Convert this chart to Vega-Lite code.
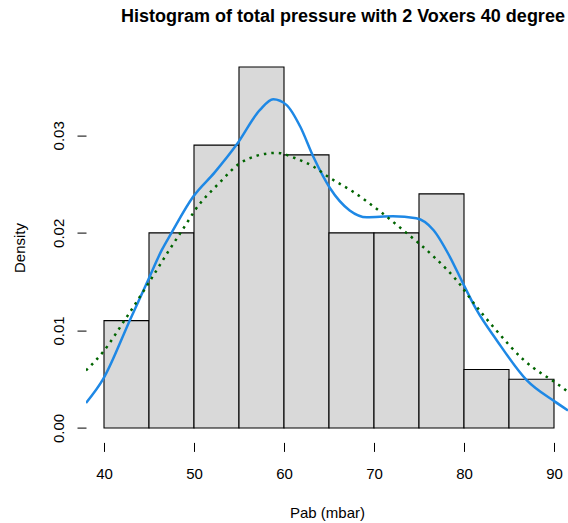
{
  "$schema": "https://vega.github.io/schema/vega-lite/v6.json",
  "width": 482,
  "height": 389.8,
  "autosize": "none",
  "padding": {"left": 86, "top": 52.6, "right": 0, "bottom": 80.6},
  "background": "white",
  "config": {
    "view": {"stroke": null},
    "font": "Liberation Sans"
  },
  "title": {
    "text": "Histogram of total pressure with 2 Voxers 40 degree",
    "font": "Liberation Sans",
    "fontSize": 18,
    "fontWeight": "bold",
    "color": "black",
    "anchor": "middle",
    "baseline": "alphabetic",
    "offset": 13,
    "dx": 16
  },
  "encoding": {
    "x": {
      "field": "x",
      "type": "quantitative",
      "title": "Pab (mbar)",
      "scale": {"domain": [38, 91.556], "nice": false, "zero": false},
      "axis": {
        "values": [40, 50, 60, 70, 80, 90],
        "domain": false,
        "grid": false,
        "tickColor": "black",
        "tickSize": 9,
        "labelFontSize": 15,
        "labelColor": "black",
        "labelFont": "Liberation Sans",
        "labelBaseline": "alphabetic",
        "labelPadding": 27,
        "labelFlush": false,
        "titleFont": "Liberation Sans",
        "titleFontSize": 15,
        "titleFontWeight": "normal",
        "titleColor": "black",
        "titleBaseline": "alphabetic",
        "titleY": 74.6
      }
    },
    "y": {
      "field": "density",
      "type": "quantitative",
      "title": "Density",
      "scale": {"domain": [-0.00148, 0.03848], "nice": false, "zero": false},
      "axis": {
        "values": [0, 0.01, 0.02, 0.03],
        "format": ".2f",
        "domain": false,
        "grid": false,
        "tickColor": "black",
        "tickSize": 9,
        "labelFontSize": 15,
        "labelColor": "black",
        "labelFont": "Liberation Sans",
        "labelAngle": -90,
        "labelAlign": "center",
        "labelBaseline": "alphabetic",
        "labelPadding": 13.7,
        "labelFlush": false,
        "titleFont": "Liberation Sans",
        "titleFontSize": 15,
        "titleFontWeight": "normal",
        "titleColor": "black",
        "titleAngle": -90,
        "titleBaseline": "alphabetic",
        "titleX": -62
      }
    }
  },
  "layer": [
    {
      "data": {
        "values": [
          {"x": 40, "x2": 45, "density": 0.011},
          {"x": 45, "x2": 50, "density": 0.020},
          {"x": 50, "x2": 55, "density": 0.029},
          {"x": 55, "x2": 60, "density": 0.037},
          {"x": 60, "x2": 65, "density": 0.028},
          {"x": 65, "x2": 70, "density": 0.020},
          {"x": 70, "x2": 75, "density": 0.020},
          {"x": 75, "x2": 80, "density": 0.024},
          {"x": 80, "x2": 85, "density": 0.006},
          {"x": 85, "x2": 90, "density": 0.005}
        ]
      },
      "mark": {"type": "rect", "fill": "#D9D9D9", "stroke": "black", "strokeWidth": 1.1},
      "encoding": {
        "x2": {"field": "x2"},
        "y2": {"datum": 0}
      }
    },
    {
      "data": {
        "values": [
          {"x": 38.0, "density": 0.00256},
          {"x": 39.9, "density": 0.0050},
          {"x": 42.9, "density": 0.0111},
          {"x": 44.92, "density": 0.0152},
          {"x": 46.4, "density": 0.0182},
          {"x": 47.5, "density": 0.0200},
          {"x": 49.9, "density": 0.0237},
          {"x": 52.3, "density": 0.0262},
          {"x": 54.7, "density": 0.0290},
          {"x": 57.33, "density": 0.0326},
          {"x": 58.8, "density": 0.0337},
          {"x": 60.3, "density": 0.0331},
          {"x": 61.8, "density": 0.0309},
          {"x": 63.26, "density": 0.0278},
          {"x": 65.1, "density": 0.0246},
          {"x": 67.3, "density": 0.0223},
          {"x": 69.2, "density": 0.0216},
          {"x": 72.1, "density": 0.0217},
          {"x": 74.7, "density": 0.0215},
          {"x": 76.6, "density": 0.0203},
          {"x": 78.4, "density": 0.0176},
          {"x": 79.9, "density": 0.0148},
          {"x": 81.4, "density": 0.0121},
          {"x": 83.63, "density": 0.0090},
          {"x": 86.96, "density": 0.0049},
          {"x": 90.1, "density": 0.0027},
          {"x": 91.556, "density": 0.0018}
        ]
      },
      "mark": {"type": "line", "color": "#1E88E5", "strokeWidth": 2.5, "interpolate": "monotone", "clip": true}
    },
    {
      "data": {
        "values": [
          {"x": 38.0, "density": 0.0059},
          {"x": 39.9, "density": 0.0078},
          {"x": 42.33, "density": 0.0111},
          {"x": 44.92, "density": 0.0148},
          {"x": 47.15, "density": 0.0181},
          {"x": 49.2, "density": 0.0210},
          {"x": 50.1, "density": 0.0223},
          {"x": 52.9, "density": 0.0252},
          {"x": 54.9, "density": 0.0270},
          {"x": 56.96, "density": 0.0279},
          {"x": 59.2, "density": 0.0282},
          {"x": 61.4, "density": 0.0276},
          {"x": 63.26, "density": 0.0268},
          {"x": 65.0, "density": 0.0257},
          {"x": 67.7, "density": 0.0242},
          {"x": 70.67, "density": 0.0222},
          {"x": 73.6, "density": 0.0200},
          {"x": 76.6, "density": 0.0176},
          {"x": 79.56, "density": 0.0147},
          {"x": 80.67, "density": 0.0133},
          {"x": 83.5, "density": 0.0101},
          {"x": 86.6, "density": 0.0070},
          {"x": 91.0, "density": 0.0041},
          {"x": 91.556, "density": 0.0037}
        ]
      },
      "mark": {"type": "line", "color": "#006400", "strokeWidth": 2.5, "strokeDash": [2.5, 5], "interpolate": "monotone", "clip": true}
    },
    {
      "mark": {"type": "rule", "color": "black", "strokeWidth": 1},
      "encoding": {
        "x": {"datum": 40},
        "x2": {"datum": 90},
        "y": {"datum": -0.00148}
      }
    },
    {
      "mark": {"type": "rule", "color": "black", "strokeWidth": 1},
      "encoding": {
        "x": {"datum": 38},
        "y": {"datum": 0},
        "y2": {"datum": 0.03}
      }
    }
  ]
}
